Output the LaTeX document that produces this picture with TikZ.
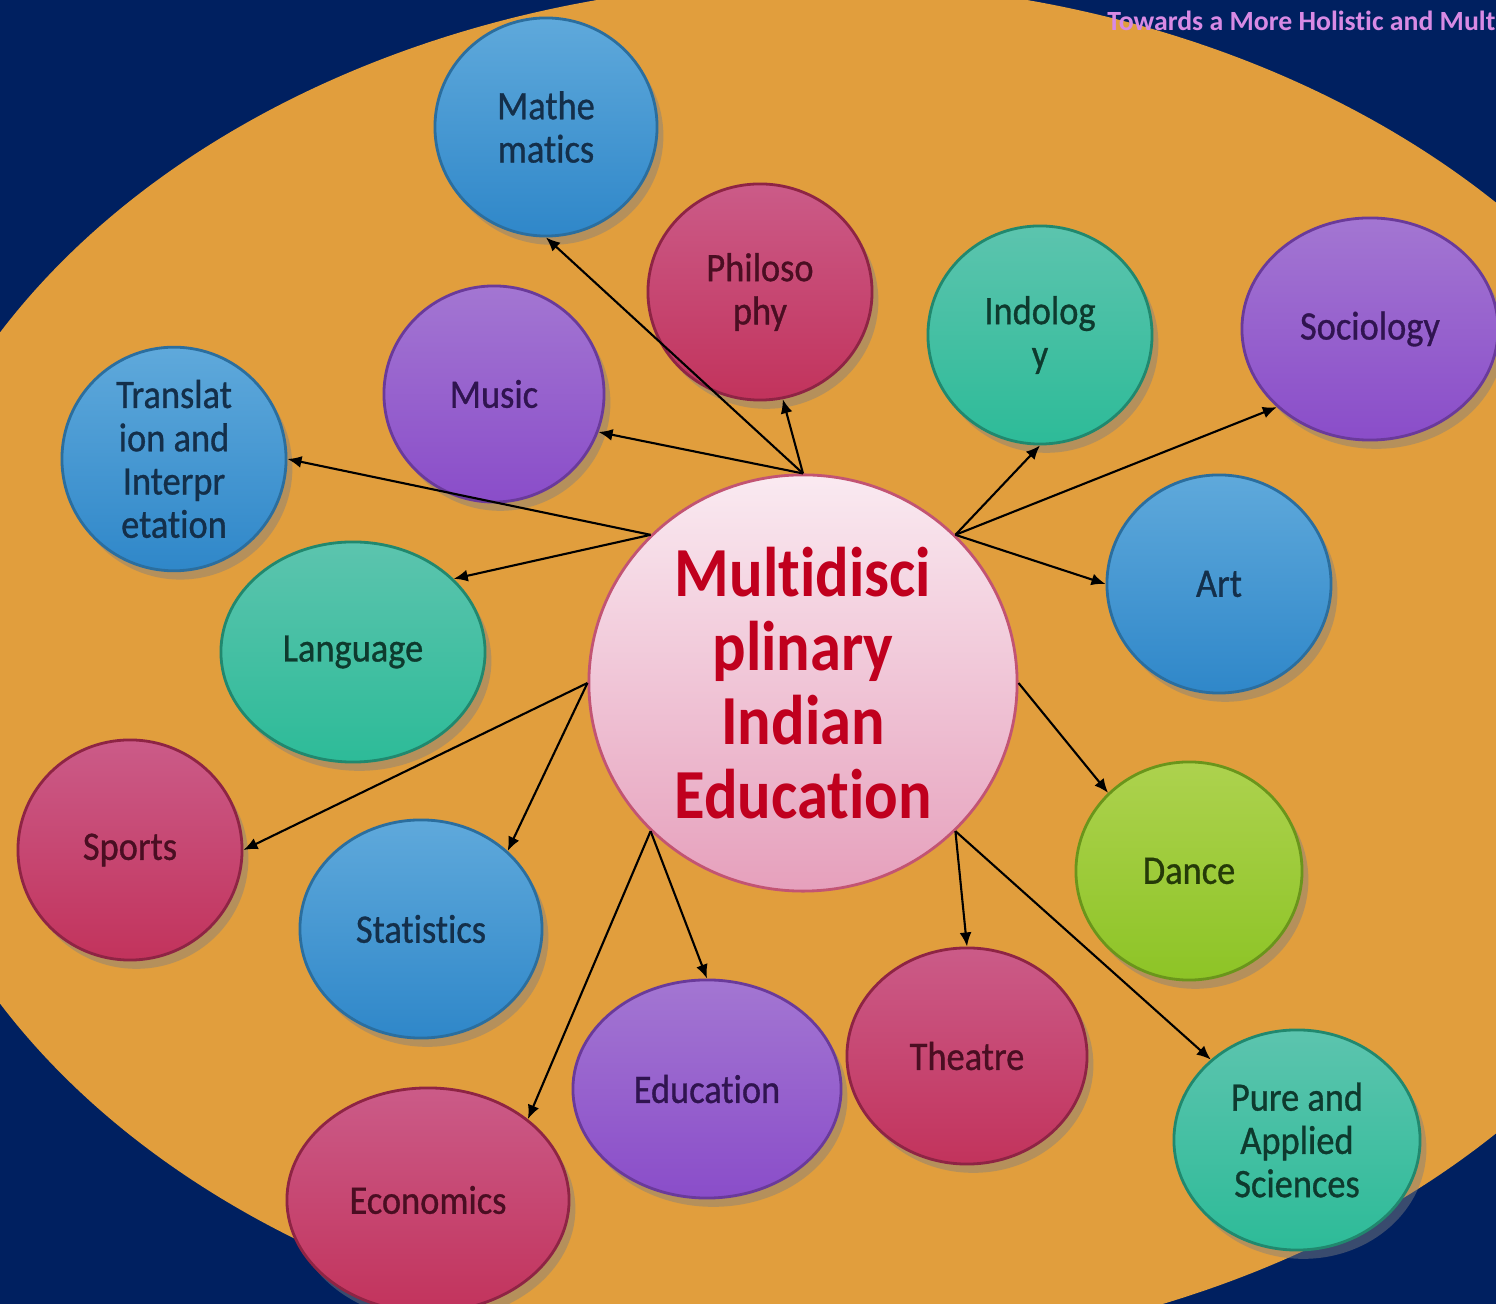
\documentclass[tikz,border=0pt]{standalone}
\usepackage{fontspec}
\setmainfont{Carlito}[Ligatures=NoCommon]
\newfontfamily\lblfont{Carlito}[FakeStretch=0.9,FakeBold=0.8,Ligatures=NoCommon]
\newfontfamily\hubfont{Carlito}[FakeStretch=0.89,Ligatures=NoCommon]
\usetikzlibrary{shapes.geometric,shadows,arrows.meta}
\definecolor{navy}{HTML}{002060}
\definecolor{orng}{HTML}{E19E3D}
\definecolor{titlecol}{HTML}{D88AE4}
\definecolor{bluetop}{HTML}{5FA9DB}\definecolor{bluebot}{HTML}{2F87C9}\definecolor{bluedraw}{HTML}{2B6E9E}\definecolor{bluetext}{HTML}{142F4A}
\definecolor{pinktop}{HTML}{CB5B88}\definecolor{pinkbot}{HTML}{C2335C}\definecolor{pinkdraw}{HTML}{8E2444}\definecolor{pinktext}{HTML}{4A0E22}
\definecolor{purptop}{HTML}{A376D2}\definecolor{purpbot}{HTML}{8A4DC9}\definecolor{purpdraw}{HTML}{6A3A9A}\definecolor{purptext}{HTML}{301450}
\definecolor{tealtop}{HTML}{5CC4AE}\definecolor{tealbot}{HTML}{2DBB98}\definecolor{tealdraw}{HTML}{21886E}\definecolor{tealtext}{HTML}{0E3A2E}
\definecolor{limetop}{HTML}{ADD24E}\definecolor{limebot}{HTML}{8DC426}\definecolor{limedraw}{HTML}{6A951B}\definecolor{limetext}{HTML}{253A08}
\definecolor{ctrtop}{HTML}{FAEAF1}\definecolor{ctrbot}{HTML}{E6A0BC}\definecolor{ctrdraw}{HTML}{C25473}\definecolor{ctrtext}{HTML}{C0001E}
\begin{document}
\begin{tikzpicture}[x=0.01cm,y=-0.01cm,
  ball/.style={ellipse, inner sep=0pt, align=center,
    font=\lblfont\fontsize{11.5}{12.3}\selectfont, line width=0.8pt,
    drop shadow={shadow xshift=1.8pt,shadow yshift=-2.5pt,opacity=0.45}},
  blueball/.style={ball, top color=bluetop, bottom color=bluebot, draw=bluedraw, text=bluetext},
  pinkball/.style={ball, top color=pinktop, bottom color=pinkbot, draw=pinkdraw, text=pinktext},
  purpball/.style={ball, top color=purptop, bottom color=purpbot, draw=purpdraw, text=purptext},
  tealball/.style={ball, top color=tealtop, bottom color=tealbot, draw=tealdraw, text=tealtext},
  limeball/.style={ball, top color=limetop, bottom color=limebot, draw=limedraw, text=limetext},
  hub/.style={ellipse, inner sep=0pt, align=center, top color=ctrtop, bottom color=ctrbot,
    draw=ctrdraw, line width=0.8pt, text=ctrtext,
    font=\hubfont\bfseries\fontsize{20}{21}\selectfont},
  conn/.style={-{Latex[length=4pt,width=3.4pt]}, line width=0.6pt, black}
]
\useasboundingbox (0,0) rectangle (1496,1304);
\fill[navy] (0,0) rectangle (1496,1304);
\fill[orng] (812,668) ellipse [x radius=9.30cm, y radius=6.86cm];

\node[purpball, minimum width=2.20cm, minimum height=2.16cm] (music) at (494,394) {Music};
\node[blueball, minimum width=2.22cm, minimum height=2.18cm] (math) at (546,127) {Mathe\\matics};
\node[pinkball, minimum width=2.24cm, minimum height=2.16cm] (phil) at (760,292) {Philoso\\phy};
\node[tealball, minimum width=2.24cm, minimum height=2.18cm] (indo) at (1040,335) {Indolog\\y};
\node[purpball, minimum width=2.56cm, minimum height=2.22cm] (socio) at (1370,329) {Sociology};
\node[blueball, minimum width=2.24cm, minimum height=2.18cm] (trans) at (174,459) {Translat\\ion and\\Interpr\\etation};
\node[tealball, minimum width=2.64cm, minimum height=2.20cm] (lang) at (353,652) {Language};
\node[blueball, minimum width=2.24cm, minimum height=2.18cm] (art) at (1219,584) {Art};
\node[pinkball, minimum width=2.24cm, minimum height=2.20cm] (sports) at (130,850) {Sports};
\node[blueball, minimum width=2.42cm, minimum height=2.18cm] (stat) at (421,929) {Statistics};
\node[limeball, minimum width=2.26cm, minimum height=2.18cm] (dance) at (1189,871) {Dance};
\node[pinkball, minimum width=2.40cm, minimum height=2.16cm] (theatre) at (967,1056) {Theatre};
\node[purpball, minimum width=2.68cm, minimum height=2.18cm] (edu) at (707,1089) {Education};
\node[pinkball, minimum width=2.82cm, minimum height=2.24cm] (econ) at (428,1200) {Economics};
\node[tealball, minimum width=2.46cm, minimum height=2.20cm] (pure) at (1297,1140) {Pure and\\Applied\\Sciences};

\node[hub, minimum width=4.28cm, minimum height=4.16cm] (hubnode) at (803,683) {Multidisci\\plinary\\Indian\\Education};

\node[anchor=east, inner sep=0pt, text=titlecol, font=\bfseries\fontsize{7.9}{8.5}\selectfont] (title) at (1496,21) {Towards a More Holistic and Mult};

\draw[conn] (hubnode.north) -- (math.south);
\draw[conn] (hubnode.north) -- (phil.-78);
\draw[conn] (hubnode.north) -- (music.-20);
\draw[conn] (hubnode.north west) -- (trans.east);
\draw[conn] (hubnode.north west) -- (lang.36);
\draw[conn] (hubnode.north east) -- (indo.south);
\draw[conn] (hubnode.north east) -- (socio.220);
\draw[conn] (hubnode.north east) -- (art.west);
\draw[conn] (hubnode.west) -- (sports.east);
\draw[conn] (hubnode.west) -- (stat.42);
\draw[conn] (hubnode.east) -- (dance.136);
\draw[conn] (hubnode.south west) -- (econ.39);
\draw[conn] (hubnode.south west) -- (edu.north);
\draw[conn] (hubnode.south east) -- (theatre.north);
\draw[conn] (hubnode.south east) -- (pure.137);
\end{tikzpicture}
\end{document}
